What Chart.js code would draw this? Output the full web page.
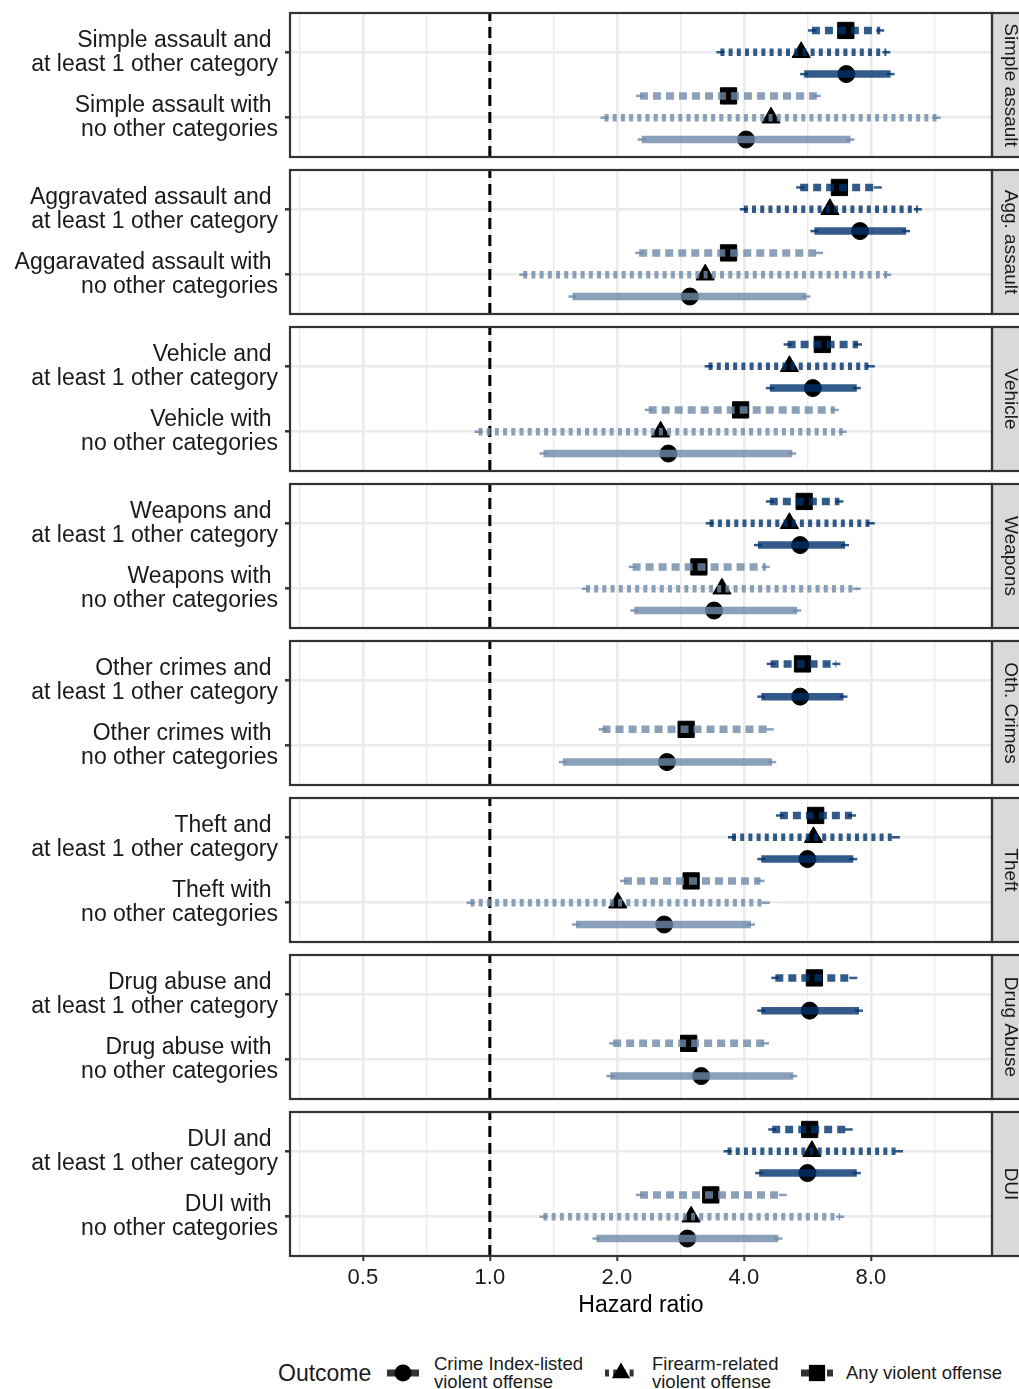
<!DOCTYPE html>
<html>
<head>
<meta charset="utf-8">
<script src="https://cdn.jsdelivr.net/npm/chart.js@4.4.1/dist/chart.umd.min.js"></script>
<style>
  html, body { margin: 0; padding: 0; background: #fff; }
  #wrap { position: relative; width: 1019px; height: 1389px; overflow: hidden;
          font-family: 'Liberation Sans', Arial, sans-serif; color: #1a1a1a; }
  #wrap canvas.panel { position: absolute; left: 0; }
  .lg { position: absolute; white-space: nowrap; }
  .lg-title { font-size: 23px; line-height: 26px; }
  .lg-text { font-size: 18.5px; line-height: 18px; }
</style>
</head>
<body>
<div id="wrap"></div>
<script>
// facets, top to bottom
const facetNames = ['Simple assault', 'Agg. assault', 'Vehicle', 'Weapons', 'Oth. Crimes', 'Theft', 'Drug Abuse', 'DUI'];

// y labels: upper row (and at least 1 other) / lower row (no other categories)
const labelsAnd = [
    ['Simple assault and ', 'at least 1 other category'],
    ['Aggravated assault and ', 'at least 1 other category'],
    ['Vehicle and ', 'at least 1 other category'],
    ['Weapons and ', 'at least 1 other category'],
    ['Other crimes and ', 'at least 1 other category'],
    ['Theft and ', 'at least 1 other category'],
    ['Drug abuse and ', 'at least 1 other category'],
    ['DUI and ', 'at least 1 other category']
];
const labelsOnly = [
    ['Simple assault with ', 'no other categories'],
    ['Aggaravated assault with ', 'no other categories'],
    ['Vehicle with ', 'no other categories'],
    ['Weapons with ', 'no other categories'],
    ['Other crimes with ', 'no other categories'],
    ['Theft with ', 'no other categories'],
    ['Drug abuse with ', 'no other categories'],
    ['DUI with ', 'no other categories']
];

const outcomeNames = [['Crime Index-listed', 'violent offense'], ['Firearm-related', 'violent offense'], ['Any violent offense']];

// Crime Index-listed violent offense (circle, solid)
const crimeAndHr = [7.00, 7.54, 5.83, 5.44, 5.44, 5.66, 5.73, 5.66];
const crimeAndLo = [5.56, 5.88, 4.61, 4.32, 4.40, 4.40, 4.40, 4.35];
const crimeAndHi = [8.91, 9.70, 7.41, 6.95, 6.89, 7.27, 7.50, 7.41];
const crimeOnlyHr = [4.05, 2.98, 2.65, 3.40, 2.63, 2.59, 3.17, 2.94];
const crimeOnlyLo = [2.29, 1.57, 1.34, 2.20, 1.49, 1.60, 1.93, 1.79];
const crimeOnlyHi = [7.16, 5.63, 5.21, 5.35, 4.67, 4.16, 5.24, 4.83];

// Firearm-related violent offense (triangle, dotted)
const fireAndHr = [5.47, 6.40, 5.13, 5.13, null, 5.85, null, 5.80];
const fireAndLo = [3.52, 4.00, 3.30, 3.32, null, 3.75, null, 3.66];
const fireAndHi = [8.71, 10.34, 8.00, 8.00, null, 9.17, null, 9.33];
const fireOnlyHr = [4.64, 3.24, 2.54, 3.55, null, 2.01, null, 3.00];
const fireOnlyLo = [1.87, 1.20, 0.94, 1.69, null, 0.90, null, 1.34];
const fireOnlyHi = [11.46, 8.75, 6.86, 7.41, null, 4.51, null, 6.77];

// Any violent offense (square, dashed)
const anyAndHr = [6.98, 6.74, 6.14, 5.56, 5.51, 5.92, 5.88, 5.73];
const anyAndLo = [5.80, 5.44, 5.08, 4.61, 4.63, 4.87, 4.75, 4.67];
const anyAndHi = [8.42, 8.31, 7.46, 6.74, 6.63, 7.22, 7.27, 7.09];
const anyOnlyHr = [3.68, 3.68, 3.93, 3.13, 2.92, 3.00, 2.96, 3.34];
const anyOnlyLo = [2.27, 2.26, 2.38, 2.18, 1.85, 2.08, 1.96, 2.27];
const anyOnlyHi = [5.96, 6.03, 6.57, 4.51, 4.61, 4.38, 4.49, 4.95];

const xMajorTicks = [0.5, 1, 2, 4, 8];
const xMin = 0.336, xMax = 15.5;

const darkCol = 'rgba(0, 50, 107, 0.8)';
const lightCol = 'rgba(110, 136, 168, 0.8)';

const series = [
    { and: [crimeAndHr, crimeAndLo, crimeAndHi], only: [crimeOnlyHr, crimeOnlyLo, crimeOnlyHi], style: 'circle', radius: 8.5, dash: [] },
    { and: [fireAndHr, fireAndLo, fireAndHi], only: [fireOnlyHr, fireOnlyLo, fireOnlyHi], style: 'triangle', radius: 10.5, dash: [4, 4.2] },
    { and: [anyAndHr, anyAndLo, anyAndHi], only: [anyOnlyHr, anyOnlyLo, anyOnlyHi], style: 'rect', radius: 11.5, dash: [8, 5] }
];

Chart.defaults.font.family = "'Liberation Sans', Arial, sans-serif";
Chart.defaults.color = '#1a1a1a';

const xTickValues = xMajorTicks.flatMap(v => [v / Math.SQRT2, v]).concat([xMajorTicks[xMajorTicks.length - 1] * Math.SQRT2]);
const isMajor = v => xMajorTicks.some(m => Math.abs(m - v) < 1e-9);

const wrap = document.getElementById('wrap');

// panel border + facet strip
function panelDeco(f) {
    return {
        id: 'panelDeco' + f,
        afterDraw(chart) {
            const { ctx, chartArea: a } = chart;
            ctx.save();
            ctx.fillStyle = '#d9d9d9';
            ctx.fillRect(a.right, a.top, 40, a.bottom - a.top);
            ctx.strokeStyle = '#333333';
            ctx.lineWidth = 2.2;
            ctx.strokeRect(a.right, a.top, 40, a.bottom - a.top);
            ctx.strokeRect(a.left, a.top, a.right - a.left, a.bottom - a.top);
            ctx.translate(1010, (a.top + a.bottom) / 2);
            ctx.rotate(Math.PI / 2);
            ctx.fillStyle = '#1a1a1a';
            ctx.font = "19px 'Liberation Sans', Arial, sans-serif";
            ctx.textAlign = 'center';
            ctx.textBaseline = 'middle';
            ctx.fillText(facetNames[f], 0, 0);
            ctx.restore();
        }
    };
}

facetNames.forEach((name, f) => {
    const isLast = f === facetNames.length - 1;
    const cv = document.createElement('canvas');
    cv.className = 'panel';
    cv.width = 1019;
    cv.height = isLast ? 230 : 160;
    cv.style.top = (f * 157) + 'px';
    wrap.appendChild(cv);

    const present = series.filter(s => s.and[0][f] != null);
    const n = present.length;
    const datasets = [{
        data: [{ x: 1, y: 0.4 }, { x: 1, y: 2.6 }],
        showLine: true, borderColor: '#000', borderWidth: 3, borderDash: [11, 6],
        pointRadius: 0, order: 3
    }];
    present.forEach((s, k) => {
        const off = (k - (n - 1) / 2) / n;
        datasets.push({
            data: [{ x: s.and[0][f], y: 2 + off }, { x: s.only[0][f], y: 1 + off }],
            pointStyle: s.style, pointRadius: s.radius,
            backgroundColor: '#000', borderColor: '#000', borderWidth: 1,
            order: 2
        });
        [[s.and, 2, darkCol], [s.only, 1, lightCol]].forEach(([vals, yc, col]) => {
            datasets.push({
                data: [{ x: vals[1][f], y: yc + off }, { x: vals[2][f], y: yc + off }],
                showLine: true, borderColor: col, borderWidth: 7.5, borderDash: s.dash,
                borderCapStyle: 'butt',
                pointStyle: 'line', pointRadius: 4, pointBorderWidth: 2.5,
                pointBorderColor: col, pointBackgroundColor: col,
                order: 1
            });
        });
    });

    new Chart(cv.getContext('2d'), {
        type: 'scatter',
        data: { datasets },
        options: {
            responsive: false,
            animation: false,
            devicePixelRatio: 1,
            events: [],
            layout: { autoPadding: false, padding: { top: 13, right: 27, bottom: isLast ? 0 : 3, left: 0 } },
            plugins: { legend: { display: false }, tooltip: { enabled: false } },
            scales: {
                x: {
                    type: 'logarithmic', min: xMin, max: xMax, bounds: 'data',
                    border: { display: false },
                    grid: {
                        color: '#ebebeb',
                        lineWidth: c => (c.tick && isMajor(c.tick.value)) ? 2.6 : 1.3,
                        drawTicks: isLast, tickLength: 5, tickWidth: 2,
                        tickColor: c => (c.tick && isMajor(c.tick.value)) ? '#333333' : 'rgba(0,0,0,0)'
                    },
                    ticks: {
                        display: isLast, autoSkip: false, maxRotation: 0, padding: 4,
                        color: '#1a1a1a', font: { size: 22 },
                        callback: v => isMajor(v) ? v.toFixed(1) : ''
                    },
                    title: {
                        display: isLast, text: 'Hazard ratio', color: '#000',
                        font: { size: 23 }, padding: { top: 4, bottom: 10 }
                    },
                    afterBuildTicks: s => {
                        s.ticks = xTickValues.map(v => ({ value: v }));
                        s.min = xMin;
                        s.max = xMax;
                    },
                    afterFit: s => { s.height = isLast ? 73 : 0; s.paddingLeft = 0; s.paddingRight = 0; }
                },
                y: {
                    type: 'linear', min: 0.4, max: 2.6,
                    border: { display: false },
                    grid: { color: '#ebebeb', lineWidth: 2.6, tickLength: 5, tickWidth: 2.5, tickColor: '#333333' },
                    ticks: {
                        padding: 7, color: '#1a1a1a', font: { size: 23, lineHeight: 1.05 },
                        callback: v => v === 2 ? labelsAnd[f] : (v === 1 ? labelsOnly[f] : '')
                    },
                    afterBuildTicks: s => { s.ticks = [{ value: 1 }, { value: 2 }]; },
                    afterFit: s => { s.width = 290; s.paddingTop = 0; s.paddingBottom = 0; s.paddingLeft = 0; s.paddingRight = 0; }
                }
            }
        },
        plugins: [panelDeco(f)]
    });
});

// legend
function addDiv(cls, left, top, html) {
    const d = document.createElement('div');
    d.className = 'lg ' + cls;
    d.style.left = left + 'px';
    d.style.top = top + 'px';
    d.innerHTML = html;
    wrap.appendChild(d);
}

function drawKey(left, s) {
    const cv = document.createElement('canvas');
    cv.width = 32; cv.height = 24;
    cv.className = 'lg';
    cv.style.left = left + 'px';
    cv.style.top = '1361px';
    wrap.appendChild(cv);
    const ctx = cv.getContext('2d');
    const cx = 16, cy = 12, r = s.radius;
    ctx.fillStyle = '#000';
    ctx.beginPath();
    if (s.style === 'circle') {
        ctx.arc(cx, cy, r, 0, Math.PI * 2);
    } else if (s.style === 'triangle') {
        ctx.moveTo(cx, cy - r);
        ctx.lineTo(cx + Math.sin(2 * Math.PI / 3) * r, cy - Math.cos(2 * Math.PI / 3) * r);
        ctx.lineTo(cx + Math.sin(4 * Math.PI / 3) * r, cy - Math.cos(4 * Math.PI / 3) * r);
        ctx.closePath();
    } else {
        const h = r * Math.SQRT1_2;
        ctx.rect(cx - h, cy - h, 2 * h, 2 * h);
    }
    ctx.fill();
    ctx.strokeStyle = 'rgba(0,0,0,0.8)';
    ctx.lineWidth = 7;
    ctx.setLineDash(s.dash);
    ctx.beginPath();
    ctx.moveTo(0, cy);
    ctx.lineTo(32, cy);
    ctx.stroke();
}

addDiv('lg-title', 278, 1360, 'Outcome');
drawKey(387, series[0]);
addDiv('lg-text', 434, 1355, outcomeNames[0].join('<br>'));
drawKey(605, series[1]);
addDiv('lg-text', 652, 1355, outcomeNames[1].join('<br>'));
drawKey(801, series[2]);
addDiv('lg-text', 846, 1364, outcomeNames[2].join('<br>'));
</script>
</body>
</html>
